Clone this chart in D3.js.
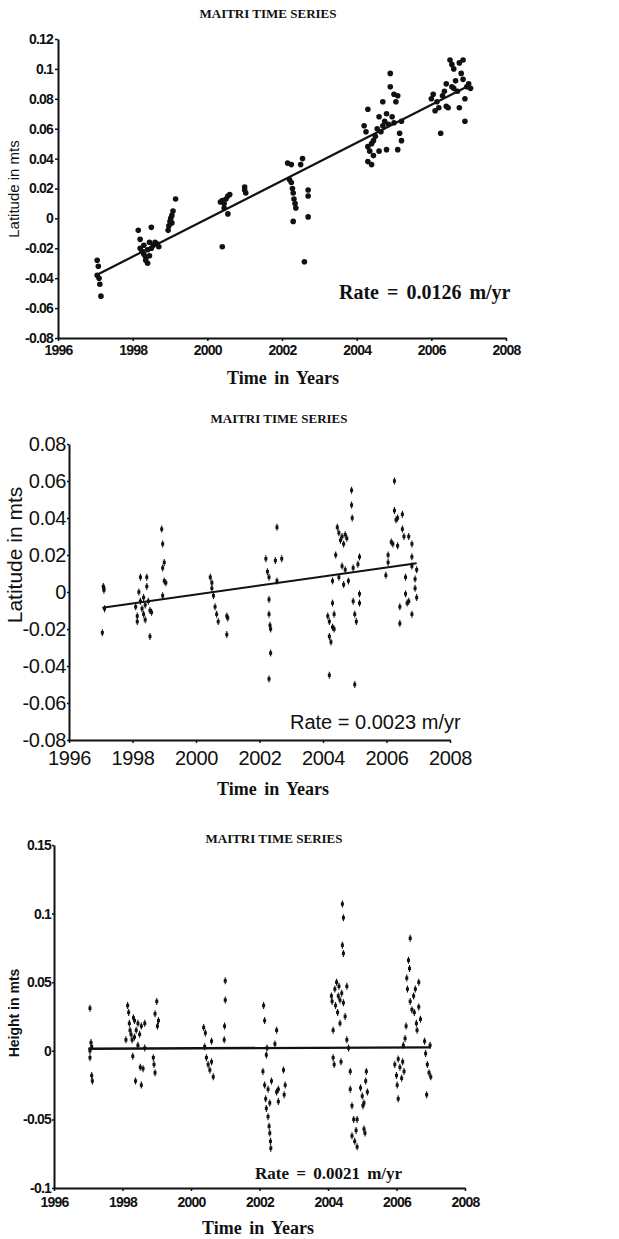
<!DOCTYPE html>
<html>
<head>
<meta charset="utf-8">
<script src="https://cdn.jsdelivr.net/npm/d3@7"></script>
<style>
  body { margin: 0; background: #fff; }
  svg { display: block; }
  .axis path, .axis line { stroke: #111; }
  .ttl { font-family: "Liberation Serif", "Times New Roman", serif; font-weight: bold; fill: #111; }
</style>
</head>
<body>
<svg id="chart" width="619" height="1239"></svg>
<script>
// tick labels shared by all three panels
var yearTicks = [1996, 1998, 2000, 2002, 2004, 2006, 2008];
var northTicks = [0.12, 0.1, 0.08, 0.06, 0.04, 0.02, 0, -0.02, -0.04, -0.06, -0.08];
var eastTicks = [0.08, 0.06, 0.04, 0.02, 0, -0.02, -0.04, -0.06, -0.08];
var upTicks = [0.15, 0.1, 0.05, 0, -0.05, -0.1];

// panel 1 - latitude (top), [year, metres]
var northPoints = [
  [1997.05,-0.028],[1997.08,-0.032],[1997.05,-0.038],[1997.1,-0.040],[1997.12,-0.044],[1997.15,-0.052],
  [1998.15,-0.008],[1998.2,-0.014],[1998.2,-0.020],[1998.25,-0.022],[1998.3,-0.024],[1998.3,-0.018],
  [1998.35,-0.026],[1998.35,-0.028],[1998.4,-0.030],[1998.4,-0.021],[1998.45,-0.025],[1998.5,-0.020],
  [1998.5,-0.006],[1998.55,-0.018],[1998.6,-0.016],[1998.65,-0.017],[1998.7,-0.019],[1998.45,-0.016],
  [1998.95,-0.008],[1998.97,-0.005],[1999.0,-0.002],[1999.02,0.0],[1999.05,0.002],[1999.05,-0.003],
  [1999.08,0.005],[1999.15,0.013],
  [2000.35,0.011],[2000.4,0.012],[2000.45,0.010],[2000.5,0.013],[2000.55,0.015],[2000.6,0.016],
  [2000.45,0.007],[2000.55,0.003],[2000.4,-0.019],
  [2001.0,0.021],[2001.0,0.019],[2001.03,0.017],
  [2002.15,0.037],[2002.25,0.036],[2002.2,0.026],[2002.25,0.024],[2002.28,0.020],[2002.3,0.017],
  [2002.32,0.013],[2002.35,0.010],[2002.37,0.007],[2002.3,-0.002],[2002.5,0.036],[2002.55,0.040],
  [2002.7,0.019],[2002.7,0.015],[2002.7,0.001],[2002.6,-0.029],
  [2004.2,0.062],[2004.25,0.058],[2004.3,0.073],[2004.3,0.048],[2004.35,0.045],[2004.3,0.038],
  [2004.4,0.036],[2004.4,0.050],[2004.45,0.042],[2004.5,0.055],[2004.55,0.060],[2004.6,0.068],
  [2004.6,0.045],[2004.7,0.062],[2004.7,0.078],[2004.75,0.065],[2004.8,0.070],[2004.8,0.046],
  [2004.85,0.063],[2004.9,0.097],[2004.9,0.088],[2004.95,0.068],[2005.0,0.083],[2005.0,0.064],
  [2005.05,0.078],[2005.1,0.082],[2005.1,0.046],[2005.15,0.057],[2005.2,0.052],[2005.2,0.065],
  [2004.45,0.052],[2004.65,0.058],
  [2006.0,0.080],[2006.05,0.083],[2006.1,0.072],[2006.15,0.078],[2006.2,0.074],[2006.25,0.057],
  [2006.3,0.082],[2006.35,0.085],[2006.4,0.090],[2006.45,0.074],[2006.5,0.106],[2006.55,0.103],
  [2006.6,0.087],[2006.6,0.100],[2006.65,0.092],[2006.7,0.085],[2006.75,0.104],[2006.75,0.074],
  [2006.8,0.097],[2006.85,0.106],[2006.85,0.093],[2006.9,0.080],[2006.9,0.065],[2006.95,0.088],
  [2007.0,0.090],[2007.05,0.087],[2006.55,0.088],[2006.4,0.075]
];
var northFit = [[1997.1, -0.037], [2006.95, 0.088]];

// panel 2 - latitude (middle)
var eastPoints = [
  [1997.08,0.003],[1997.1,0.002],[1997.1,0.001],[1997.12,-0.009],[1997.05,-0.022],
  [1998.1,-0.008],[1998.15,-0.013],[1998.15,-0.016],[1998.2,0.0],[1998.25,0.008],[1998.25,-0.005],
  [1998.3,-0.009],[1998.35,-0.003],[1998.35,-0.012],[1998.4,-0.015],[1998.45,0.008],[1998.45,0.003],
  [1998.5,-0.005],[1998.55,-0.024],[1998.55,-0.010],[1998.6,-0.011],[1998.4,-0.007],
  [1998.92,0.034],[1998.95,0.026],[1998.95,0.013],[1999.0,0.016],[1999.0,0.006],[1999.05,0.005],[1998.95,-0.002],
  [2000.45,0.008],[2000.5,0.005],[2000.5,0.002],[2000.55,-0.002],[2000.6,-0.008],[2000.65,-0.012],[2000.7,-0.016],
  [2000.97,-0.013],[2001.0,-0.014],[2000.97,-0.023],
  [2002.2,0.018],[2002.25,0.011],[2002.3,0.008],[2002.3,-0.004],[2002.3,-0.012],[2002.33,-0.018],
  [2002.35,-0.020],[2002.35,-0.033],[2002.3,-0.047],[2002.5,0.017],[2002.55,0.035],[2002.55,0.006],[2002.7,0.018],
  [2004.15,-0.013],[2004.2,-0.016],[2004.2,-0.024],[2004.25,-0.027],[2004.3,-0.019],[2004.3,-0.006],
  [2004.35,-0.012],[2004.35,-0.020],[2004.2,-0.045],[2004.3,0.006],[2004.4,0.020],[2004.45,0.035],
  [2004.5,0.032],[2004.55,0.028],[2004.6,0.030],[2004.6,0.014],[2004.65,0.026],[2004.7,0.031],
  [2004.65,0.004],[2004.7,0.012],[2004.75,0.029],[2004.5,0.008],[2004.8,0.006],[2004.9,0.055],
  [2004.9,0.047],[2004.92,0.040],[2004.95,0.013],[2004.95,-0.005],[2005.0,-0.012],[2005.0,-0.050],
  [2005.05,-0.016],[2005.1,0.015],[2005.15,0.019],[2005.15,-0.001],[2005.15,-0.006],
  [2005.98,0.009],[2006.05,0.020],[2006.05,0.016],[2006.15,0.027],[2006.2,0.026],[2006.25,0.044],
  [2006.25,0.060],[2006.3,0.039],[2006.35,0.040],[2006.35,0.025],[2006.42,-0.008],[2006.42,-0.017],
  [2006.5,0.042],[2006.5,0.034],[2006.55,0.030],[2006.6,0.008],[2006.6,-0.001],[2006.65,-0.006],
  [2006.7,0.030],[2006.7,-0.005],[2006.8,0.026],[2006.8,0.019],[2006.8,0.014],[2006.8,-0.012],
  [2006.9,0.007],[2006.9,0.002],[2006.95,0.012],[2006.95,-0.003]
];
var eastFit = [[1997.05, -0.0085], [2006.95, 0.0155]];

// panel 3 - height (bottom)
var upPoints = [
  [1997.05,0.031],[1997.08,0.006],[1997.05,0.0],[1997.05,-0.005],[1997.1,-0.018],[1997.12,-0.022],[1997.1,0.003],
  [1998.1,0.008],[1998.15,0.033],[1998.18,0.028],[1998.2,0.020],[1998.22,0.015],[1998.25,0.012],
  [1998.28,0.008],[1998.3,-0.004],[1998.32,0.024],[1998.35,0.022],[1998.35,0.010],[1998.38,-0.022],
  [1998.4,0.015],[1998.45,0.020],[1998.45,0.004],[1998.5,0.012],[1998.52,-0.012],[1998.55,-0.025],
  [1998.55,0.018],[1998.6,-0.013],[1998.65,0.002],[1998.65,0.020],
  [1998.9,-0.005],[1998.92,-0.010],[1998.95,-0.016],[1998.95,0.027],[1999.0,0.036],[1999.02,0.018],[1999.05,0.022],
  [2000.37,0.017],[2000.4,0.003],[2000.42,0.013],[2000.45,-0.005],[2000.5,-0.010],[2000.55,-0.014],
  [2000.6,0.007],[2000.6,-0.008],[2000.65,-0.019],
  [2000.97,0.008],[2000.98,0.018],[2001.0,0.037],[2001.0,0.051],
  [2002.1,-0.015],[2002.12,0.033],[2002.15,0.022],[2002.15,-0.025],[2002.18,-0.035],[2002.2,-0.042],
  [2002.2,-0.003],[2002.22,0.002],[2002.25,-0.048],[2002.25,-0.028],[2002.28,-0.055],[2002.3,-0.060],
  [2002.32,-0.066],[2002.33,-0.071],[2002.3,-0.038],[2002.35,-0.022],[2002.45,0.005],[2002.5,0.015],
  [2002.5,-0.030],[2002.55,-0.037],[2002.55,-0.028],[2002.7,-0.014],[2002.72,-0.032],[2002.75,-0.025],
  [2004.1,0.040],[2004.12,0.036],[2004.15,0.015],[2004.15,-0.005],[2004.18,-0.010],[2004.2,0.045],
  [2004.22,0.033],[2004.25,0.050],[2004.28,0.028],[2004.3,0.040],[2004.32,0.047],[2004.35,0.037],
  [2004.35,0.020],[2004.38,-0.008],[2004.4,0.042],[2004.42,0.107],[2004.45,0.097],[2004.42,0.077],
  [2004.45,0.071],[2004.45,0.035],[2004.5,0.025],[2004.55,0.047],[2004.55,0.008],[2004.6,0.002],
  [2004.65,-0.015],[2004.65,-0.028],[2004.7,-0.040],[2004.7,-0.062],[2004.75,-0.050],[2004.78,-0.066],
  [2004.82,-0.058],[2004.85,-0.050],[2004.85,-0.070],
  [2004.95,-0.027],[2005.0,-0.033],[2005.02,-0.040],[2005.05,-0.038],[2005.05,-0.057],[2005.08,-0.060],
  [2005.1,-0.022],[2005.12,-0.015],[2005.15,-0.030],
  [2005.95,-0.010],[2006.0,-0.018],[2006.02,-0.025],[2006.05,-0.035],[2006.05,-0.006],[2006.1,-0.012],
  [2006.15,-0.020],[2006.18,-0.008],[2006.2,0.004],[2006.22,-0.015],[2006.25,0.009],[2006.28,0.018],
  [2006.3,0.053],[2006.32,0.045],[2006.35,0.066],[2006.38,0.060],[2006.4,0.082],[2006.4,0.036],
  [2006.45,0.030],[2006.5,0.040],[2006.52,0.028],[2006.55,0.045],[2006.58,0.020],[2006.6,0.015],
  [2006.65,0.050],[2006.65,0.032],[2006.7,0.023],
  [2006.82,0.007],[2006.85,-0.002],[2006.88,-0.032],[2006.9,-0.010],[2006.95,-0.016],[2006.98,0.004],[2007.0,-0.019]
];
var upFit = [[1997.0, 0.0015], [2007.0, 0.0025]];

var svg = d3.select("#chart");

function drawPanel(p) {
  var x = d3.scaleLinear().domain([1996, 2008]).range([p.left, p.right]);
  var y = d3.scaleLinear().domain(p.yDomain).range([p.bottom, p.top]);
  var g = svg.append("g");

  // title
  g.append("text").attr("class", "ttl")
    .attr("x", p.titleX).attr("y", p.titleY)
    .attr("text-anchor", "middle").style("font-size", "13px")
    .text("MAITRI TIME SERIES");

  // axes
  var ya = g.append("g").attr("class", "axis")
    .attr("transform", `translate(${p.left},0)`)
    .call(d3.axisLeft(y).tickValues(p.yTicks).tickFormat(d => String(d))
      .tickSize(p.yTickSize).tickSizeOuter(0).tickPadding(p.yPad));
  var xa = g.append("g").attr("class", "axis")
    .attr("transform", `translate(0,${p.bottom})`)
    .call(d3.axisBottom(x).tickValues(yearTicks).tickFormat(d3.format("d"))
      .tickSize(3).tickSizeOuter(0).tickPadding(p.xPad));
  [ya, xa].forEach(a => {
    a.select(".domain").attr("stroke-width", 2);
    a.selectAll("line").attr("stroke-width", 1.5);
    a.selectAll("text")
      .attr("fill", "#111")
      .style("font-family", "'Liberation Sans', Arial, sans-serif")
      .style("font-size", p.tickFont + "px")
      .style("font-weight", p.tickBold ? "bold" : "normal")
      .style("letter-spacing", p.tickSpacing + "px");
  });

  // axis titles
  g.append("text")
    .attr("transform", `translate(${p.yLabX},${p.yLabY}) rotate(-90)`)
    .attr("text-anchor", "middle")
    .style("font-family", "'Liberation Sans', Arial, sans-serif")
    .style("font-size", p.yLabFont + "px")
    .style("font-weight", p.yLabBold ? "bold" : "normal")
    .attr("fill", "#111")
    .text(p.yLabel);
  g.append("text").attr("class", "ttl")
    .attr("x", p.xLabX).attr("y", p.xLabY)
    .attr("text-anchor", "middle").style("font-size", "18px")
    .style("word-spacing", "3px")
    .text("Time in Years");

  // data marks
  if (p.dots) {
    g.selectAll(".pt").data(p.points).enter().append("circle")
      .attr("class", "pt")
      .attr("cx", d => x(d[0])).attr("cy", d => y(d[1]))
      .attr("r", 2.8).attr("fill", "#111");
  } else {
    var m = g.selectAll(".pt").data(p.points).enter().append("g")
      .attr("class", "pt")
      .attr("transform", d => `translate(${x(d[0])},${y(d[1])})`);
    m.append("line").attr("y1", -3.5).attr("y2", 3.5)
      .attr("stroke", "#111").attr("stroke-width", 1.1);
    m.append("rect").attr("x", -1.5).attr("y", -1.7)
      .attr("width", 3).attr("height", 3.4).attr("fill", "#111");
  }

  // fitted trend
  g.append("path").datum(p.fit)
    .attr("fill", "none").attr("stroke", "#111").attr("stroke-width", p.fitWidth)
    .attr("d", d3.line().x(d => x(d[0])).y(d => y(d[1])));

  // rate label
  g.append("text")
    .attr("x", p.rateX).attr("y", p.rateY)
    .style("font-family", p.rateSerif ? "'Liberation Serif', 'Times New Roman', serif" : "'Liberation Sans', Arial, sans-serif")
    .style("font-weight", p.rateSerif ? "bold" : "normal")
    .style("font-size", p.rateFont + "px")
    .style("word-spacing", p.rateSerif ? "3px" : "0px")
    .attr("fill", "#111")
    .text(p.rate);
}

drawPanel({
  left: 58, right: 506, top: 39, bottom: 338, yDomain: [-0.08, 0.12], yTicks: northTicks,
  yTickSize: 3, yPad: 2, xPad: 4, tickFont: 14, tickBold: true, tickSpacing: -0.8,
  titleX: 268, titleY: 18,
  yLabel: "Latitude in mts", yLabX: 19, yLabY: 189, yLabFont: 15, yLabBold: false,
  xLabX: 283, xLabY: 384,
  points: northPoints, dots: true, fit: northFit, fitWidth: 2.2,
  rate: "Rate = 0.0126 m/yr", rateX: 339, rateY: 299, rateFont: 20, rateSerif: true
});

drawPanel({
  left: 69, right: 450, top: 444, bottom: 740, yDomain: [-0.08, 0.08], yTicks: eastTicks,
  yTickSize: 2, yPad: 1, xPad: 8, tickFont: 20, tickBold: false, tickSpacing: -0.4,
  titleX: 279, titleY: 423,
  yLabel: "Latitude in mts", yLabX: 22, yLabY: 555, yLabFont: 21, yLabBold: false,
  xLabX: 273, xLabY: 795,
  points: eastPoints, dots: false, fit: eastFit, fitWidth: 2,
  rate: "Rate = 0.0023 m/yr", rateX: 290, rateY: 729, rateFont: 20, rateSerif: false
});

drawPanel({
  left: 54, right: 465, top: 845, bottom: 1188, yDomain: [-0.1, 0.15], yTicks: upTicks,
  yTickSize: 2, yPad: 1, xPad: 6, tickFont: 14, tickBold: true, tickSpacing: -0.8,
  titleX: 274, titleY: 843,
  yLabel: "Height in mts", yLabX: 19, yLabY: 1013, yLabFont: 14, yLabBold: true,
  xLabX: 258, xLabY: 1234,
  points: upPoints, dots: false, fit: upFit, fitWidth: 2.4,
  rate: "Rate = 0.0021 m/yr", rateX: 255, rateY: 1179, rateFont: 17, rateSerif: true
});
</script>
</body>
</html>
